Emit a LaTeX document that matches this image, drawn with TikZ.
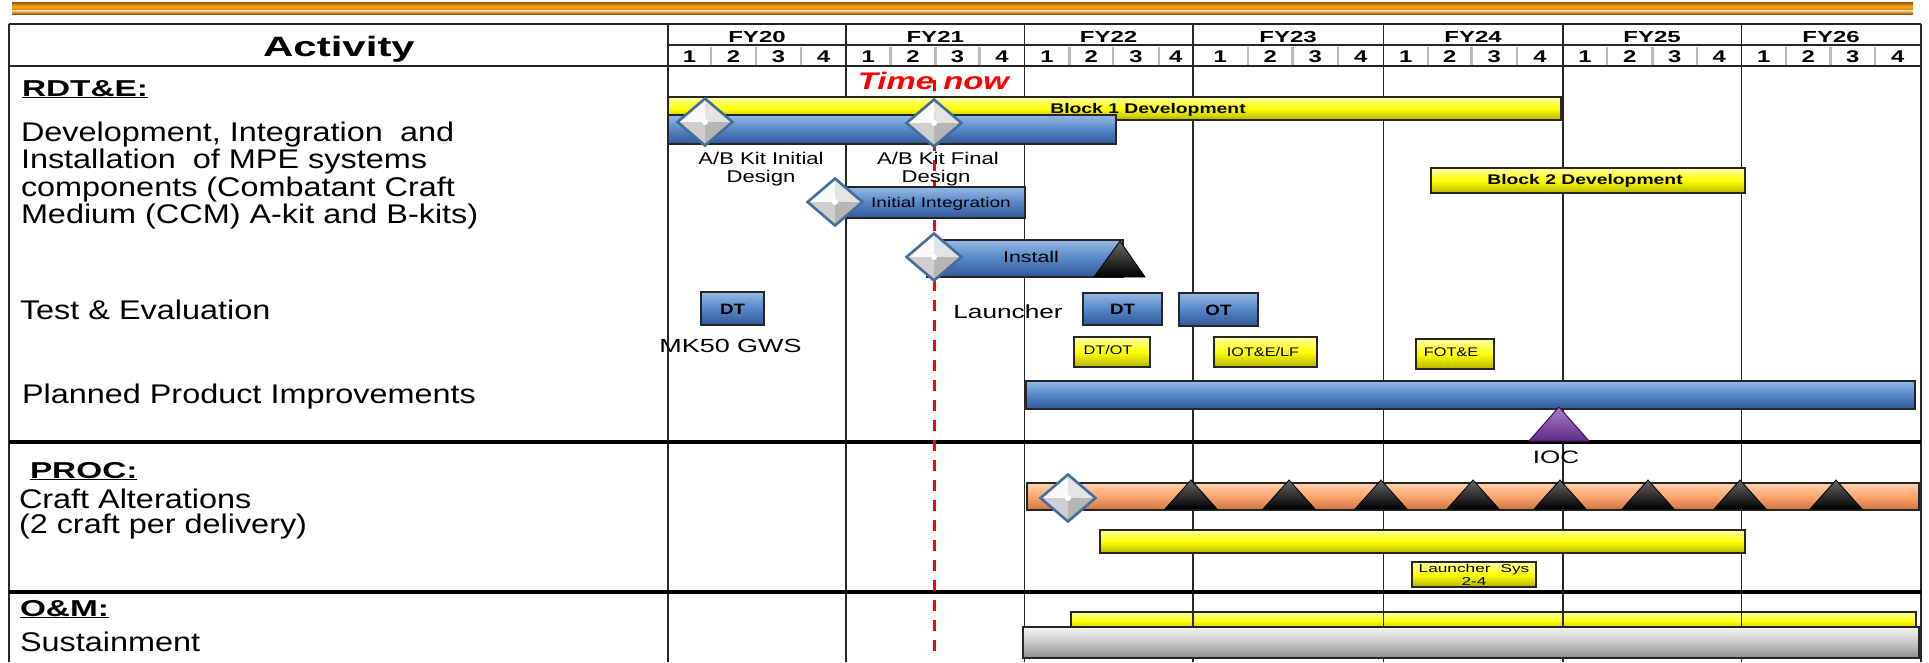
\documentclass[tikz,border=0pt]{standalone}
\usepackage{fontspec}
\setmainfont{Liberation Sans}
\usepackage{graphicx}
\usetikzlibrary{shapes.geometric}
\definecolor{bblue}{RGB}{84,134,198}
\definecolor{bbluehi}{RGB}{150,185,230}
\definecolor{bbluelo}{RGB}{50,88,150}
\definecolor{byel}{RGB}{255,255,0}
\definecolor{byelhi}{RGB}{255,255,170}
\definecolor{byello}{RGB}{180,180,0}
\definecolor{bora}{RGB}{250,165,110}
\definecolor{borahi}{RGB}{255,210,175}
\definecolor{boralo}{RGB}{205,115,65}
\definecolor{bgry}{RGB}{200,200,200}
\definecolor{bgryhi}{RGB}{245,245,245}
\definecolor{bgrylo}{RGB}{140,140,140}
\definecolor{dborder}{RGB}{70,108,155}
\definecolor{ipurple}{RGB}{112,48,160}
\definecolor{goldA}{RGB}{150,85,0}
\definecolor{goldB}{RGB}{250,170,30}
\definecolor{goldC}{RGB}{205,125,0}
\definecolor{tred}{RGB}{255,0,0}
\newcommand{\fsz}[1]{\fontsize{#1}{#1}\selectfont}
\newcommand{\hstr}[2]{\scalebox{#1}[1]{#2}}
\tikzset{
  tx/.style={inner sep=0pt, outer sep=0pt},
  gridln/.style={draw=black!85, line width=1.6pt},
  qln/.style={draw=gray!55, line width=2.4pt},
  secln/.style={draw=black, line width=3.5pt},
  barblue/.style={draw=black!85, line width=1.6pt, top color=bbluehi, bottom color=bbluelo, middle color=bblue},
  baryel/.style={draw=black!85, line width=1.6pt, top color=byelhi, bottom color=byello, middle color=byel},
  barora/.style={draw=black!85, line width=1.6pt, top color=borahi, bottom color=boralo, middle color=bora},
  bargry/.style={draw=black!85, line width=1.6pt, top color=bgryhi, bottom color=bgrylo, middle color=bgry},
  blktri/.style={top color=black!60, bottom color=black, draw=black, line width=0.8pt},
  msdia/.style={diamond, minimum width=56pt, minimum height=48pt, inner sep=0pt, draw=dborder, line width=2.6pt,
    path picture={
      \fill[gray!4] (path picture bounding box.north west) rectangle (path picture bounding box.center);
      \fill[gray!22] (path picture bounding box.north east) rectangle (path picture bounding box.center);
      \fill[gray!38] (path picture bounding box.south west) rectangle (path picture bounding box.center);
      \fill[gray!58] (path picture bounding box.south east) rectangle (path picture bounding box.center);
      \fill[white] (path picture bounding box.center) circle (3pt);
    }},
}
\begin{document}
\begin{tikzpicture}[x=1pt,y=-1pt]
\useasboundingbox (0,0) rectangle (1929,662);
\fill[white] (0,0) rectangle (1929,662);

% decorative top bar
\shade[top color=goldA, bottom color=goldC, middle color=goldB] (12,2) rectangle (1913,10.5);
\shade[top color=goldB!50!white, bottom color=goldA] (12,10.5) rectangle (1913,14);

% O&M yellow bar (grid lines run over it)
\path[baryel] (1071,612) rectangle (1916,631);

% grid
\foreach \xx in {9,668,846,1024.5,1192.7,1383.5,1562.7,1741.5,1920.7}
  \draw[gridln] (\xx,24) -- (\xx,662);
\draw[gridln] (9,24) -- (1920.7,24);
\draw[gridln] (668,45) -- (1920.7,45);
\draw[gridln] (9,66) -- (1920.7,66);
\foreach \xx in {711,756,801,890.6,935.5,979.6,1069.4,1113,1158.8,1247.8,1292.4,1338,1427.8,1471.6,1517,1607,1652.5,1697,1785.8,1830.5,1874.8}
  \draw[qln] (\xx,46.5) -- (\xx,64.5);
\draw[secln] (9,442) -- (1920.7,442);
\draw[secln] (9,592) -- (1920.7,592);

% header text
\node[tx, anchor=base] (act) at (339,56.5) {\fsz{28}\bfseries\hstr{1.5}{Activity}};
\foreach \a/\b/\lab in {668/846/FY20, 846/1024.5/FY21, 1024.5/1192.7/FY22, 1192.7/1383.5/FY23, 1383.5/1562.7/FY24, 1562.7/1741.5/FY25, 1741.5/1920.7/FY26}
  \node[tx, anchor=base] (h-\lab) at ({(\a+\b)/2},42.5) {\fsz{16}\bfseries\hstr{1.5}{\lab}};
\foreach \a/\b/\d [count=\i] in {668/711/1, 711/756/2, 756/801/3, 801/846/4,
  846/890.6/1, 890.6/935.5/2, 935.5/979.6/3, 979.6/1024.5/4,
  1024.5/1069.4/1, 1069.4/1113/2, 1113/1158.8/3, 1158.8/1192.7/4,
  1192.7/1247.8/1, 1247.8/1292.4/2, 1292.4/1338/3, 1338/1383.5/4,
  1383.5/1427.8/1, 1427.8/1471.6/2, 1471.6/1517/3, 1517/1562.7/4,
  1562.7/1607/1, 1607/1652.5/2, 1652.5/1697/3, 1697/1741.5/4,
  1741.5/1785.8/1, 1785.8/1830.5/2, 1830.5/1874.8/3, 1874.8/1920.7/4}
  \node[tx, anchor=base] (q-\i) at ({(\a+\b)/2},62) {\fsz{17}\bfseries\hstr{1.4}{\d}};

% left column text
\node[tx, anchor=base west] (rdte) at (22,96) {\fsz{23}\bfseries\hstr{1.45}{\underline{RDT\&E:}}};
\node[tx, anchor=base west] (dev1) at (21,141) {\fsz{27}\hstr{1.2}{Development, Integration\hspace{.25em} and}};
\node[tx, anchor=base west] (dev2) at (21,168.5) {\fsz{27}\hstr{1.2}{Installation\hspace{.25em} of MPE systems}};
\node[tx, anchor=base west] (dev3) at (21,196) {\fsz{27}\hstr{1.2}{components (Combatant Craft}};
\node[tx, anchor=base west] (dev4) at (21,223.5) {\fsz{27}\hstr{1.2}{Medium (CCM) A-kit and B-kits)}};
\node[tx, anchor=base west] (tande) at (20,319) {\fsz{27}\hstr{1.2}{Test \& Evaluation}};
\node[tx, anchor=base west] (ppi) at (22,403.5) {\fsz{27}\hstr{1.2}{Planned Product Improvements}};
\node[tx, anchor=base west] (proc) at (30,478) {\fsz{23}\bfseries\hstr{1.45}{\underline{PROC:}}};
\node[tx, anchor=base west] (craft1) at (19,508) {\fsz{27}\hstr{1.2}{Craft Alterations}};
\node[tx, anchor=base west] (craft2) at (19,533) {\fsz{27}\hstr{1.2}{(2 craft per delivery)}};
\node[tx, anchor=base west] (om) at (20,616) {\fsz{23}\bfseries\hstr{1.45}{\underline{O\&M:}}};
\node[tx, anchor=base west] (sust) at (20,651) {\fsz{27}\hstr{1.2}{Sustainment}};

% time now
\coordinate (tnA) at (934.5,80);
\coordinate (tnB) at (934.5,660);
\draw[tred, line width=3.5pt, dash pattern=on 11pt off 9pt] (tnA) -- (tnB);
\node[tx, anchor=base, text=tred] (timenow) at (933.5,89.3) {\fsz{24}\bfseries\itshape\hstr{1.37}{Time now}};

% RDT&E bars
\path[baryel] (668,97) rectangle (1561,120);
\node[tx, anchor=base] (blk1) at (1148,113) {\fsz{14}\bfseries\hstr{1.38}{Block 1 Development}};
\path[barblue] (668,115) rectangle (1116,144);
\node[msdia] (d1) at (705,122) {};
\node[msdia] (d2) at (934,123) {};
\node[tx, anchor=base] (abi1) at (761,164.5) {\fsz{17}\hstr{1.3}{A/B Kit Initial}};
\node[tx, anchor=base] (abi2) at (761,182) {\fsz{17}\hstr{1.3}{Design}};
\node[tx, anchor=base] (abf1) at (938,164.5) {\fsz{17}\hstr{1.3}{A/B Kit Final}};
\node[tx, anchor=base] (abf2) at (936,182) {\fsz{17}\hstr{1.3}{Design}};

\path[barblue] (846,187) rectangle (1025,218);
\node[msdia] (d3) at (835,202) {};
\node[tx, anchor=base] (initint) at (941,207) {\fsz{14}\hstr{1.36}{Initial Integration}};

\path[barblue] (927,240) rectangle (1123,277);
\path[blktri] (1120,241) -- (1145,277) -- (1094,277) -- cycle;
\node[msdia] (d4) at (934,257) {};
\node[tx, anchor=base] (install) at (1031,262.5) {\fsz{15.5}\hstr{1.38}{Install}};

\path[baryel] (1431,168) rectangle (1745,193);
\node[tx, anchor=base] (blk2) at (1585,184) {\fsz{14}\bfseries\hstr{1.38}{Block 2 Development}};

% test & evaluation
\path[barblue] (701,292) rectangle (764,325);
\node[tx, anchor=base] (dt1) at (732.5,314) {\fsz{15}\bfseries\hstr{1.25}{DT}};
\node[tx, anchor=base] (mk50) at (730.5,352) {\fsz{19}\hstr{1.42}{MK50 GWS}};
\node[tx, anchor=base] (launcher) at (1008,318) {\fsz{19}\hstr{1.38}{Launcher}};
\path[barblue] (1083,293) rectangle (1162,325);
\node[tx, anchor=base] (dt2) at (1122.5,314.5) {\fsz{15}\bfseries\hstr{1.25}{DT}};
\path[barblue] (1179,293) rectangle (1258,326);
\node[tx, anchor=base] (ot) at (1218.5,315) {\fsz{15}\bfseries\hstr{1.25}{OT}};
\path[baryel] (1074,337) rectangle (1150,367);
\node[tx, anchor=base] (dtot) at (1108,354.5) {\fsz{12.5}\hstr{1.3}{DT/OT}};
\path[baryel] (1214,337) rectangle (1317,367);
\node[tx, anchor=base] (iote) at (1263,356) {\fsz{12.5}\hstr{1.3}{IOT\&E/LF}};
\path[baryel] (1416,339) rectangle (1494,369);
\node[tx, anchor=base] (fote) at (1451,356) {\fsz{12.5}\hstr{1.3}{FOT\&E}};

% planned product improvements
\path[barblue] (1026,381) rectangle (1915,409);
\path[draw=ipurple!50!black, line width=1pt, top color=ipurple!60!white, bottom color=ipurple!85!black] (1559,407) -- (1589,441) -- (1529,441) -- cycle;
\node[tx, anchor=base] (ioc) at (1556,463.5) {\fsz{18}\hstr{1.45}{IOC}};

% PROC
\path[barora] (1027,483) rectangle (1919,510);
\node[msdia] (d5) at (1068,498) {};
\foreach \tx in {1191,1289,1381,1473,1560,1648,1740,1836}
  \path[blktri] (\tx,480) -- (\tx+26,509) -- (\tx-26,509) -- cycle;
\path[baryel] (1100,530) rectangle (1745,553);
\path[baryel] (1412,562) rectangle (1536,587);
\node[tx, anchor=base] (lsys1) at (1474,572) {\fsz{11.5}\hstr{1.5}{Launcher\hspace{.3em} Sys}};
\node[tx, anchor=base] (lsys2) at (1474,585.5) {\fsz{11.5}\hstr{1.5}{2-4}};

% O&M
\path[bargry] (1023,627) rectangle (1919,658);
\end{tikzpicture}
\end{document}
